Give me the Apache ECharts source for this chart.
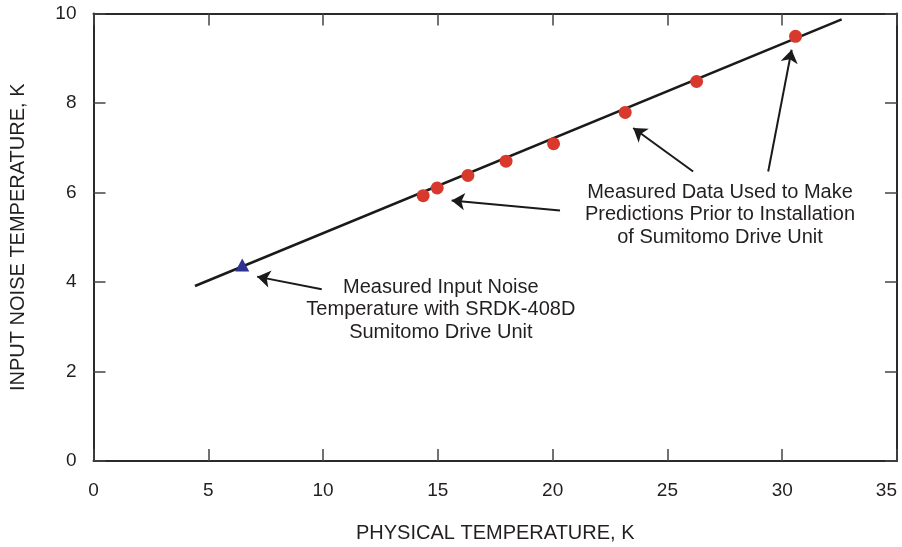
<!DOCTYPE html>
<html><head><meta charset="utf-8">
<script src="https://cdn.jsdelivr.net/npm/echarts@6/dist/echarts.min.js"></script>
<style>html,body{margin:0;padding:0;background:#fff}#c{width:902px;height:547px}</style>
</head><body><div id="c"></div>
<script>
// Data
var xTicks = [0, 5, 10, 15, 20, 25, 30, 35];
var yTicks = [0, 2, 4, 6, 8, 10];
var measuredX = [14.36, 14.97, 16.31, 17.97, 20.04, 23.16, 26.27, 30.58];
var measuredY = [5.93, 6.10, 6.38, 6.70, 7.09, 7.79, 8.48, 9.49];
var sumitomoX = [6.48];
var sumitomoY = [4.38];
var fitX = [4.42, 32.59];
var fitY = [3.91, 9.87];
var arrowTail = [[20.32, 5.60], [26.12, 6.47], [29.39, 6.47], [9.94, 3.84]];
var arrowHead = [[15.60, 5.82], [23.51, 7.44], [30.41, 9.19], [7.13, 4.12]];
var noteText = [
  'Measured Data Used to Make\nPredictions Prior to Installation\nof Sumitomo Drive Unit',
  'Measured Input Noise\nTemperature with SRDK-408D\nSumitomo Drive Unit'
];
var notePos = [[27.29, 5.50], [15.13, 3.38]];

var FONT = '"Liberation Sans", Arial, Helvetica, sans-serif';
var TXT = '#231f20';

function pairs(xs, ys) { return xs.map(function (x, i) { return [x, ys[i]]; }); }

var tickStyle = { show: true, inside: true, length: 12, lineStyle: { color: '#444', width: 1.5 } };
var lineStyleAx = { show: true, onZero: false, lineStyle: { color: '#2a2a2a', width: 2 } };

var chart = echarts.init(document.getElementById('c'));
chart.setOption({
  animation: false,
  backgroundColor: '#fff',
  grid: { left: 93.5, right: 5, top: 13.5, bottom: 86, containLabel: false, outerBoundsMode: 'none' },
  xAxis: [{
    type: 'value', min: xTicks[0], max: xTicks[xTicks.length - 1], interval: 5, position: 'bottom',
    axisLine: lineStyleAx, axisTick: tickStyle, splitLine: { show: false },
    axisLabel: { color: TXT, fontFamily: FONT, fontSize: 19, margin: 20, alignMaxLabel: 'right' },
    name: 'PHYSICAL TEMPERATURE, K', nameLocation: 'middle', nameGap: 62,
    nameTextStyle: { color: TXT, fontFamily: FONT, fontSize: 20 }
  }, {
    type: 'value', min: xTicks[0], max: xTicks[xTicks.length - 1], interval: 5, position: 'top',
    axisLine: lineStyleAx, axisTick: tickStyle, splitLine: { show: false }, axisLabel: { show: false }
  }],
  yAxis: [{
    type: 'value', min: yTicks[0], max: yTicks[yTicks.length - 1], interval: 2, position: 'left',
    axisLine: lineStyleAx, axisTick: tickStyle, splitLine: { show: false },
    axisLabel: { color: TXT, fontFamily: FONT, fontSize: 19, margin: 17 },
    name: 'INPUT NOISE TEMPERATURE, K', nameLocation: 'middle', nameGap: 65,
    nameTextStyle: { color: TXT, fontFamily: FONT, fontSize: 20 }
  }, {
    type: 'value', min: yTicks[0], max: yTicks[yTicks.length - 1], interval: 2, position: 'right',
    axisLine: lineStyleAx, axisTick: tickStyle, splitLine: { show: false }, axisLabel: { show: false }
  }],
  series: [{
    type: 'line', data: pairs(fitX, fitY), symbol: 'none',
    lineStyle: { color: '#1a1a1a', width: 2.5 }, z: 2,
    markLine: {
      silent: true, symbol: ['none', 'arrow'], symbolSize: 13,
      lineStyle: { color: '#1a1a1a', width: 2, type: 'solid', opacity: 1 },
      itemStyle: { color: '#1a1a1a' },
      label: { show: false },
      data: arrowTail.map(function (t, i) { return [{ coord: t }, { coord: arrowHead[i] }]; })
    }
  }, {
    type: 'scatter', data: pairs(measuredX, measuredY), symbol: 'circle', symbolSize: 13,
    itemStyle: { color: '#d9382c', opacity: 1 }, z: 3
  }, {
    type: 'scatter', data: pairs(sumitomoX, sumitomoY), symbol: 'triangle', symbolSize: [14, 13],
    itemStyle: { color: '#2e3192', opacity: 1 }, z: 3
  }, {
    type: 'scatter', symbolSize: 0, silent: true, itemStyle: { opacity: 1 },
    data: notePos.map(function (p, i) {
      return { value: p, label: { show: true, position: 'inside', formatter: noteText[i] } };
    }),
    label: { color: TXT, fontFamily: FONT, fontSize: 20, lineHeight: 22.5, align: 'center', verticalAlign: 'middle', opacity: 1 }
  }]
});
</script></body></html>
